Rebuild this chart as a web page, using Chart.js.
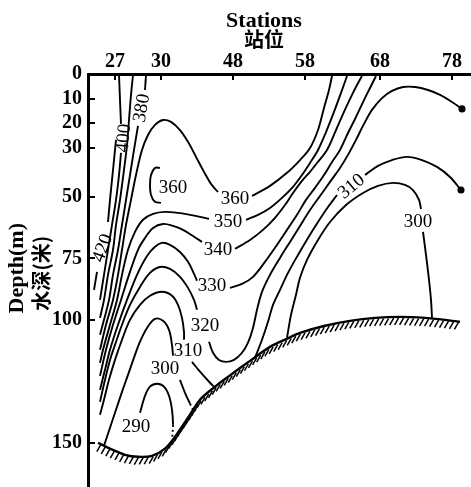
<!DOCTYPE html>
<html><head><meta charset="utf-8">
<script src="https://cdn.jsdelivr.net/npm/chart.js@4.4.0/dist/chart.umd.min.js"></script>
<style>html,body{margin:0;padding:0;background:#fff}#wrap{width:471px;height:487px;position:relative}</style>
</head><body><div id="wrap"><canvas id="c"></canvas></div>
<script>
// Axis data
const stationLabels = ['27','30','48','58','68','78'];
const stationDist   = [27, 73, 145, 217, 292, 364];      // distance along section
const depthTicks    = [0, 10, 20, 30, 50, 75, 100, 150]; // m

// Sea floor [distance, depth m]
const seafloor = [[10,150.0],[22,152.4],[37,154.9],[50,155.7],[64,155.3],[77,152.4],[87,147.6],[102,138.6],[112,132.5],[127,127.2],[140,123.2],[162,116.7],[182,111.0],[199,107.7],[212,105.3],[237,102.4],[262,100.4],[287,99.2],[312,98.8],[337,99.2],[357,100.0],[372,100.8]];

// Contour lines [distance, depth m]; null = break (label gap)
const c420 = [[28,26.8],[26,35.0],[24,43.1],[22,51.2],[20,60.2],null,[9,80.5],[6,87.8]];
const c400 = [[31,0.4],[32,10.6],[33,20.3],null,[33,32.1],[31,41.1],[28,51.2],[24,61.4],[20,71.5],[16,81.7],[12,91.9]];
const c390 = [[45,0.4],[43,8.5],[41,18.7],[39,28.9],[36,39.0],[32,51.2],[28,61.4],[25,71.5],[20,81.7],[16,91.9],[12,99.2]];
const c380 = [[58,0.4],[57,6.5],null,[50,21.1],[46,30.9],[42,41.1],[38,51.2],[34,61.4],[30,71.5],[25,81.7],[21,91.9],[16,100.0],[12,106.1]];
const c360 = [[12,112.2],[18,102.0],[25,91.9],[30,81.7],[34,71.5],[38,61.4],[43,51.2],[48,41.1],[54,30.9],[60,24.8],[67,20.7],[75,18.7],[83,19.5],[92,22.8],[100,27.6],[108,33.7],[116,39.8],[123,44.7],[130,48.0],null,[164,49.6],[182,45.5],[199,40.2],[212,35.0],[222,30.1],[230,22.8],[236,13.8],[241,6.5],[244,0.8]];
const c360loop = [[72,38.2],[67,38.2],[63,41.1],[62,45.1],[63,49.2],[67,52.0],[73,52.4]];
const c350 = [[12,117.5],[15,112.2],[22,102.0],[29,91.9],[34,81.7],[40,71.5],[47,64.2],[55,59.3],[65,56.9],[77,56.1],[90,56.5],[102,57.3],[112,58.1],[121,58.9],null,[158,59.3],[170,57.3],[182,54.5],[194,50.4],[205,45.9],[214,41.1],[222,36.2],[230,30.9],[238,23.6],[246,15.4],[253,7.7],[259,0.8]];
const c340 = [[12,122.8],[18,112.2],[25,102.0],[33,91.9],[41,81.7],[50,71.5],[57,66.7],[65,62.6],[75,61.0],[85,61.8],[95,63.4],[105,65.9],[114,68.3],null,[147,71.1],[162,67.5],[175,63.4],[187,58.5],[197,53.3],[205,48.4],[214,43.5],[222,39.8],[229,36.2],[239,30.9],[248,22.8],[256,15.4],[264,8.5],[269,4.5],[274,0.8]];
const c330 = [[12,128.5],[17,120.3],[22,112.2],[30,102.0],[39,91.9],[49,81.7],[59,74.0],[67,70.3],[74,68.7],[82,69.5],[92,72.4],[100,76.4],[106,81.3],[109,84.1],null,[142,87.0],[154,85.4],[165,82.5],[177,76.4],[189,69.5],[199,63.4],[209,57.3],[218,51.2],[227,46.3],[236,41.1],[244,35.8],[252,30.9],[260,24.0],[268,17.5],[276,10.6],[282,5.7],[288,0.8]];
const c320 = [[12,133.3],[17,124.4],[22,116.3],[27,110.2],[34,102.0],[42,93.9],[52,86.6],[62,80.9],[72,78.5],[82,79.3],[92,82.5],[100,87.0],[106,91.9],[109,95.9],null,[121,108.9],[125,113.4],[131,116.3],[138,117.1],[146,116.3],[154,113.4],[160,109.3],[165,103.3],[169,95.9],[174,88.6],[182,81.7],[192,74.8],[202,68.3],[212,61.8],[222,55.3],[232,49.6],[242,43.9],[252,38.2],[260,32.9],[268,26.8],[276,20.3],[284,14.6],[294,9.8],[304,6.9],[315,5.3],[327,5.3],[340,6.5],[352,8.5],[364,11.4],[374,14.2]];
const c310a = [[12,138.6],[16,132.5],[21,124.4],[27,116.3],[34,108.1],[42,100.0],[52,93.9],[62,90.2],[74,88.6],[84,90.2],[90,93.9],[94,99.2],[96,104.9],[96,108.1],null,[104,117.1],[112,121.1],[122,125.6],[126,127.2]];
const c310b = [[167,115.4],[174,108.1],[180,100.8],[185,93.9],[192,87.8],[200,80.9],[210,73.6],[220,66.7],[230,60.2],[240,54.1],[249,49.2],null,[277,41.1],[290,37.4],[304,35.0],[319,33.7],[334,35.0],[349,37.8],[362,41.9],[373,47.2]];
const c300a = [[16,151.2],[22,143.9],[28,136.6],[34,129.3],[40,122.4],[46,115.4],[52,108.9],[59,103.3],[67,99.6],[75,100.4],[81,104.1],[84,110.2],[85,114.6],null,[92,124.4],[97,129.7],[102,134.1],[105,136.6]];
const c300b = [[199,107.3],[203,98.0],[208,89.8],[212,82.9],[219,75.6],[230,67.5],[242,60.2],[258,53.3],[275,48.4],[290,45.5],[305,44.3],[317,45.1],[325,47.2],[331,51.2],[333,54.9],null,[335,64.2],[338,73.6],[341,83.7],[343,91.9],[344,99.2]];
const c290 = [[52,137.8],[57,130.9],[62,127.2],[69,126.0],[76,127.2],[81,130.9],[84,136.6],[85,142.7],[84,148.8]];

// Contour value labels
const labelText  = ['420','400','380','360','360','350','340','330','320','310','300','290','310','300'];
const labelDist  = [14, 35, 53, 85, 147, 140, 130, 124, 117, 100, 77, 48, 263, 330];
const labelDepth = [70.7, 26.0, 13.8, 45.9, 50.4, 59.8, 71.1, 85.8, 102.0, 112.2, 119.5, 143.1, 45.5, 59.8];
const labelAngle = [-70, -85, -80, 0, 0, 0, 0, 0, 0, 0, 0, 0, -40, 0];

const serif = '"Liberation Serif","Times New Roman",serif';
const cjk = '"Noto Sans CJK SC","Noto Sans CJK JP",sans-serif';

const toPts = arr => arr.map(p => p ? {x:p[0], y:p[1]} : {x:0, y:null});
const contours = [
  {name:'420', d:c420}, {name:'400', d:c400}, {name:'390', d:c390}, {name:'380', d:c380},
  {name:'360', d:c360}, {name:'360 loop', d:c360loop}, {name:'350', d:c350}, {name:'340', d:c340},
  {name:'330', d:c330}, {name:'320', d:c320, dot:true}, {name:'310', d:c310a}, {name:'310 east', d:c310b, dot:true},
  {name:'300', d:c300a, dashFrom:16}, {name:'300 east', d:c300b}, {name:'290', d:c290, dashFrom:7}
];
const datasets = contours.map(c => ({
  label: c.name, data: toPts(c.d), showLine: true, spanGaps: false,
  borderColor: '#000', backgroundColor: '#000', borderWidth: 1.9, tension: 0.35,
  pointRadius: ctx => (c.dot && ctx.dataIndex === c.d.length - 1) ? 2.6 : 0,
  pointHoverRadius: 0,
  segment: { borderDash: ctx => (c.dashFrom !== undefined && ctx.p0DataIndex >= c.dashFrom) ? [2, 3] : undefined }
}));
datasets.push({label:'seafloor', data: toPts(seafloor), showLine:true, borderColor:'#000',
  borderWidth: 2.4, tension: 0.3, pointRadius: 0});

const decor = {
  id: 'decor',
  afterDatasetsDraw(chart) {
    const ctx = chart.ctx, xs = chart.scales.x, ys = chart.scales.y;
    const idx = chart.data.datasets.findIndex(d => d.label === 'seafloor');
    const pts = chart.getDatasetMeta(idx).data;
    ctx.save();
    ctx.strokeStyle = '#000'; ctx.lineWidth = 1.5;
    let carry = 2;
    for (let i = 0; i < pts.length - 1; i++) {
      const a = pts[i], b = pts[i+1];
      const dx = b.x - a.x, dy = b.y - a.y, L = Math.hypot(dx, dy);
      let s = carry;
      while (s < L) {
        const px = a.x + dx * s / L, py = a.y + dy * s / L;
        ctx.beginPath(); ctx.moveTo(px + 1, py + 1); ctx.lineTo(px - 3, py + 8); ctx.stroke();
        s += 5;
      }
      carry = s - L;
    }
    ctx.fillStyle = '#000';
    ctx.font = '19px ' + serif;
    ctx.textAlign = 'center'; ctx.textBaseline = 'middle';
    for (let i = 0; i < labelText.length; i++) {
      ctx.save();
      ctx.translate(xs.getPixelForValue(labelDist[i]), ys.getPixelForValue(labelDepth[i]));
      ctx.rotate(labelAngle[i] * Math.PI / 180);
      ctx.fillText(labelText[i], 0, 1);
      ctx.restore();
    }
    ctx.restore();
  },
  afterDraw(chart) {
    const ctx = chart.ctx, xs = chart.scales.x, ys = chart.scales.y;
    ctx.save();
    ctx.fillStyle = '#000'; ctx.textAlign = 'center';
    const cx = xs.getPixelForValue(176);
    ctx.font = 'bold 22px ' + serif; ctx.textBaseline = 'alphabetic';
    ctx.fillText('Stations', cx, 27);
    ctx.font = 'bold 20px ' + cjk; ctx.textBaseline = 'middle';
    ctx.fillText('站位', cx, 39);
    const cy1 = ys.getPixelForValue(79), cy2 = ys.getPixelForValue(81);
    ctx.save(); ctx.translate(17, cy1); ctx.rotate(-Math.PI/2);
    ctx.font = 'bold 22px ' + serif; ctx.fillText('Depth(m)', 0, 0); ctx.restore();
    ctx.save(); ctx.translate(41, cy2); ctx.rotate(-Math.PI/2);
    ctx.font = 'bold 20px ' + cjk; ctx.fillText('水深(米)', 0, 0); ctx.restore();
    ctx.restore();
  }
};

new Chart(document.getElementById('c'), {
  type: 'scatter',
  data: { datasets },
  options: {
    responsive: true, maintainAspectRatio: false, animation: false,
    layout: { autoPadding: false, padding: { left: 0, top: 0, right: 1, bottom: 0 } },
    plugins: { legend: { display: false }, tooltip: { enabled: false } },
    events: [],
    scales: {
      x: {
        type: 'linear', position: 'top', min: 0, max: 382,
        afterBuildTicks: s => { s.ticks = stationDist.map(v => ({value: v})); },
        afterFit: s => { s.height = 74; s.paddingLeft = 0; s.paddingRight = 0; },
        ticks: { autoSkip: false, maxRotation: 0, padding: 6, color: '#000',
          font: { family: serif, size: 20, weight: 'bold' },
          callback: (v, i) => stationLabels[i] },
        grid: { drawOnChartArea: false, drawTicks: true, tickLength: -6, color: '#000', lineWidth: 2 },
        border: { display: true, color: '#000', width: 3 }
      },
      y: {
        type: 'linear', position: 'left', reverse: true, min: 0, max: 168,
        afterBuildTicks: s => { s.ticks = depthTicks.map(v => ({value: v})); },
        afterFit: s => { s.width = 88; s.paddingTop = 0; s.paddingBottom = 0; },
        ticks: { autoSkip: false, padding: 13, color: '#000',
          font: { family: serif, size: 20, weight: 'bold' } },
        grid: { drawOnChartArea: false, drawTicks: true, tickLength: -7, color: '#000', lineWidth: 2 },
        border: { display: true, color: '#000', width: 3 }
      }
    }
  },
  plugins: [decor]
});
</script></body></html>
